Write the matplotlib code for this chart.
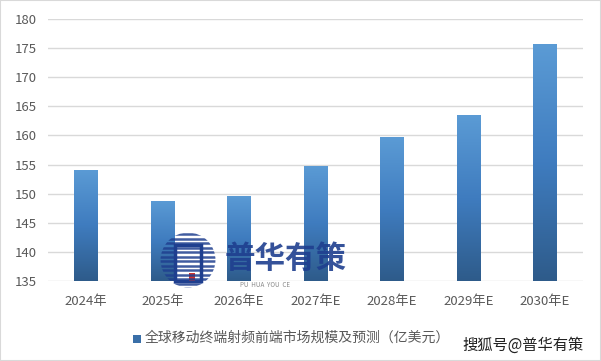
import numpy as np
import matplotlib.pyplot as plt
from matplotlib.patches import Rectangle, Circle
from matplotlib.colors import LinearSegmentedColormap

plt.rcParams['font.family'] = ['Noto Sans CJK SC', 'DejaVu Sans']

years = ['2024年', '2025年', '2026年E', '2027年E', '2028年E', '2029年E', '2030年E']
market = [154.1, 148.8, 149.6, 154.8, 159.7, 163.5, 175.7]
legend_label = '全球移动终端射频前端市场规模及预测（亿美元）'

fig = plt.figure(figsize=(6.01, 3.61), dpi=100)
ax = fig.add_axes([48 / 601, 1 - 281 / 361, 535 / 601, 262 / 361])

ax.set_xlim(-0.5, len(years) - 0.5)
ax.set_ylim(135, 180)
ax.set_yticks(np.arange(135, 181, 5))
ax.grid(axis='y', color='#d9d9d9', linewidth=1)
ax.set_axisbelow(True)
for s in ax.spines.values():
    s.set_visible(False)
ax.tick_params(length=0, colors='#595959', labelsize=9.5)
ax.tick_params(axis='x', pad=10)
ax.tick_params(axis='y', pad=8)
ax.set_xticks(range(len(years)))
ax.set_xticklabels(years)

# gradient bars
cmap = LinearSegmentedColormap.from_list('bar', ['#2e5b8a', '#3f7cbf', '#5b9bd5'])
grad = np.linspace(0, 1, 256).reshape(-1, 1)
w = 0.31
bars = ax.bar(range(len(years)), [v - 135 for v in market], bottom=135, width=w,
              color='none', edgecolor='none')
for rect, v in zip(bars, market):
    x0 = rect.get_x()
    im = ax.imshow(grad, extent=[x0, x0 + w, 135, v], origin='lower', cmap=cmap,
                   aspect='auto', zorder=2)
    im.set_clip_path(rect)
ax.set_xlim(-0.5, len(years) - 0.5)
ax.set_ylim(135, 180)

# legend
fig.patches.append(Rectangle((133 / 601, 1 - 343 / 361), 8 / 601, 8 / 361,
                             transform=fig.transFigure, facecolor='#3a6fa8',
                             edgecolor='none'))
fig.text(145 / 601, 1 - 338 / 361, legend_label, color='#595959', fontsize=10,
         va='center', ha='left')

# watermark logo: striped circle
lax = fig.add_axes([160 / 601, 1 - 288 / 361, 56 / 601, 56 / 361])
lax.set_xlim(-1, 1)
lax.set_ylim(-1, 1)
lax.set_aspect('equal')
lax.axis('off')
clip = Circle((0, 0), 0.98, transform=lax.transData)
for yy in np.arange(-1, 1, 0.16):
    ln, = lax.plot([-1, 1], [yy, yy], color='#1f3f8f', linewidth=1.8, alpha=0.85)
    ln.set_clip_path(clip)
lax.add_patch(Rectangle((-0.45, -0.75), 0.9, 1.3, facecolor='white', edgecolor='#1f3f8f',
                        linewidth=2.5))
lax.add_patch(Rectangle((0.05, -0.75), 0.2, 0.3, facecolor='#d0312d', edgecolor='none'))

fig.text(225 / 601, 1 - 259 / 361, '普华有策', color='#1f3f8f', fontsize=22,
         fontweight='bold', va='center', ha='left', alpha=0.9)
fig.text(240 / 601, 1 - 285 / 361, 'PU  HUA  YOU  CE', color='#8a8a8a', fontsize=4.5,
         va='center', ha='left')
fig.text(462 / 601, 1 - 345 / 361, '搜狐号@普华有策', color='#222222', fontsize=11,
         va='center', ha='left')

fig.patches.append(Rectangle((0, 0), 1, 1, transform=fig.transFigure,
                             facecolor='none', edgecolor='#d9d9d9', linewidth=1.5))

fig.savefig('out.png', dpi=100)
